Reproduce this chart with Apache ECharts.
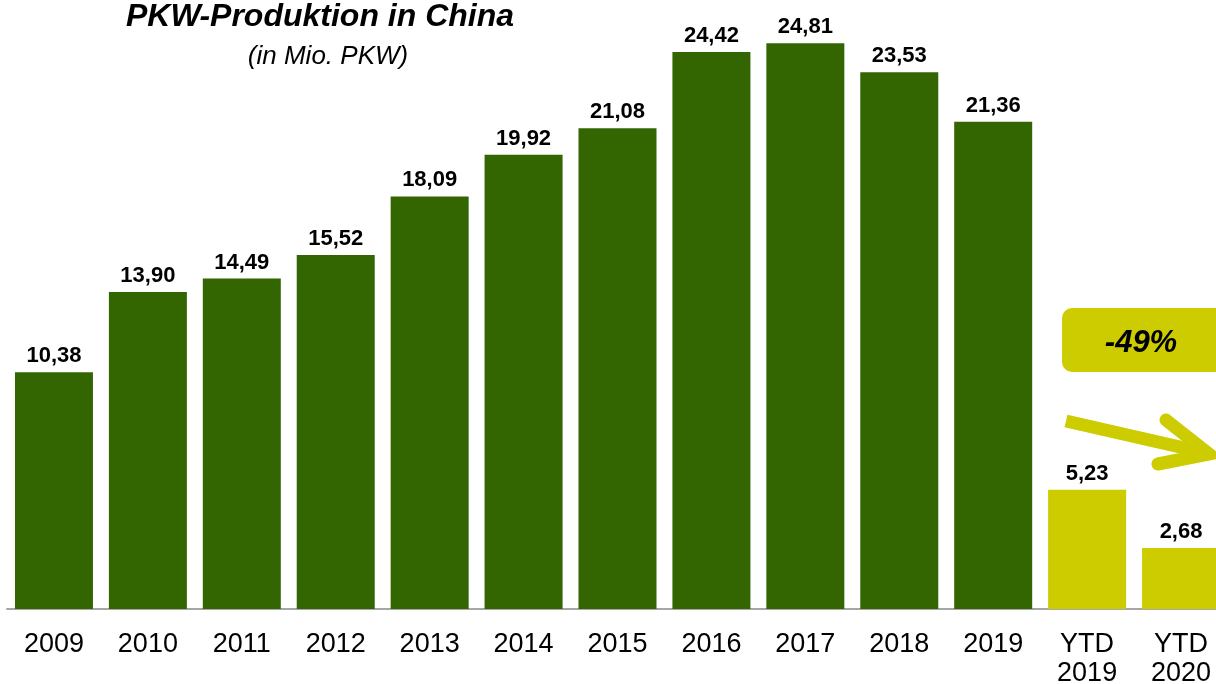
<!DOCTYPE html>
<html>
<head>
<meta charset="utf-8">
<script src="https://cdn.jsdelivr.net/npm/echarts@6/dist/echarts.min.js"></script>
<style>
  html, body { margin: 0; padding: 0; background: #ffffff; }
  #chart { width: 1216px; height: 684px; }
</style>
</head>
<body>
<div id="chart"></div>
<script>
// Passenger car production in China, million units
const categories = ['2009', '2010', '2011', '2012', '2013', '2014', '2015', '2016', '2017', '2018', '2019', 'YTD\n2019', 'YTD\n2020'];
const production = [10.38, 13.90, 14.49, 15.52, 18.09, 19.92, 21.08, 24.42, 24.81, 23.53, 21.36, 5.23, 2.68];
const titleText = 'PKW-Produktion in China';
const subtitleText = '(in Mio. PKW)';
const changeLabel = '-49%';

const GREEN = '#336600';
const YELLOW = '#cccc00';
const FONT = '"Liberation Sans", Arial, sans-serif';

const chart = echarts.init(document.getElementById('chart'), null, { renderer: 'canvas' });

chart.setOption({
  backgroundColor: '#ffffff',
  animation: false,
  // the plot runs a little past the right edge, so the last bar is cut off
  grid: { left: 7, width: 1221, top: 16, bottom: 75, containLabel: false, outerBoundsMode: 'none' },
  xAxis: {
    type: 'category',
    data: categories,
    axisLine: { show: true, lineStyle: { color: '#a6a6a6', width: 2 } },
    axisTick: { show: false },
    axisLabel: {
      interval: 0,
      margin: 21,
      fontFamily: FONT,
      fontSize: 27,
      lineHeight: 29,
      color: '#000000'
    }
  },
  yAxis: {
    type: 'value',
    min: 0,
    max: 26,
    show: false,
    splitLine: { show: false }
  },
  series: [
    {
      type: 'bar',
      data: production,
      barWidth: 78,
      itemStyle: {
        color: (p) => (categories[p.dataIndex].startsWith('YTD') ? YELLOW : GREEN)
      },
      label: {
        show: true,
        position: 'top',
        distance: 5,
        fontFamily: FONT,
        fontSize: 22,
        fontWeight: 'bold',
        color: '#000000',
        formatter: (p) => p.value.toFixed(2).replace('.', ',')
      }
    }
  ],
  graphic: [
    {
      type: 'text',
      x: 320,
      y: 17,
      style: {
        text: titleText,
        font: 'italic bold 32px ' + FONT,
        fill: '#000000',
        textAlign: 'center',
        textVerticalAlign: 'middle'
      }
    },
    {
      type: 'text',
      x: 328,
      y: 57,
      style: {
        text: subtitleText,
        font: 'italic 26px ' + FONT,
        fill: '#000000',
        textAlign: 'center',
        textVerticalAlign: 'middle'
      }
    },
    {
      type: 'rect',
      shape: { x: 1062, y: 308, width: 170, height: 64, r: 10 },
      style: { fill: YELLOW }
    },
    {
      type: 'text',
      x: 1141,
      y: 343,
      style: {
        text: changeLabel,
        font: 'italic bold 31px ' + FONT,
        fill: '#000000',
        textAlign: 'center',
        textVerticalAlign: 'middle'
      }
    },
    {
      type: 'line',
      shape: { x1: 1066, y1: 421, x2: 1202, y2: 452 },
      style: { stroke: YELLOW, lineWidth: 13, lineCap: 'butt' }
    },
    {
      type: 'polyline',
      shape: { points: [[1166, 420], [1209, 454], [1158, 464]] },
      style: { stroke: YELLOW, lineWidth: 13, lineCap: 'round', lineJoin: 'miter', fill: null }
    }
  ]
});
</script>
</body>
</html>
